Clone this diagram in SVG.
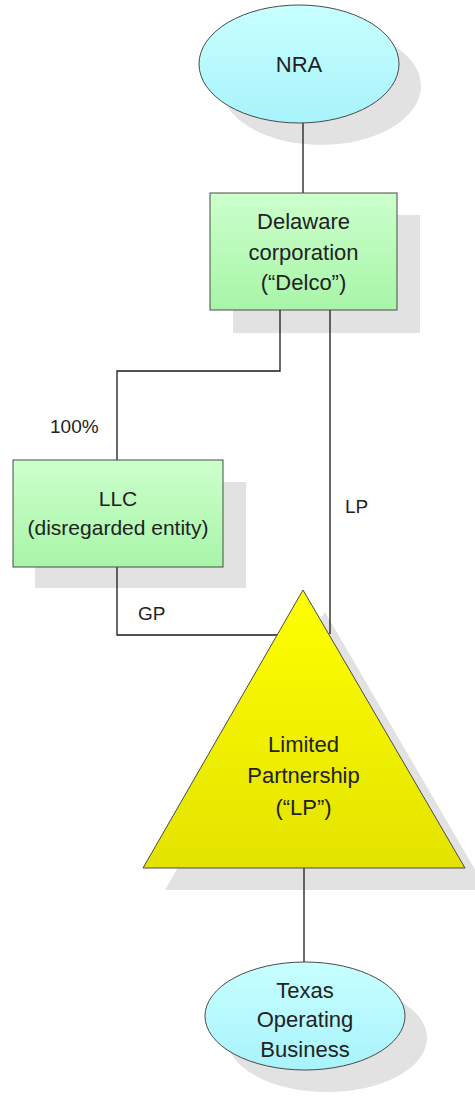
<svg xmlns="http://www.w3.org/2000/svg" width="475" height="1096" viewBox="0 0 475 1096">
<style>
.shadow{fill:#e2e2e2;stroke:none}
.shape{stroke:#4a4a4a;stroke-width:1}
.t{font-family:"Liberation Sans",Arial,sans-serif;fill:#222;text-anchor:middle}
.big{font-size:22px}
.mid{font-size:21px}
.lbl{font-family:"Liberation Sans",Arial,sans-serif;fill:#222;font-size:19px}
.conn{fill:none;stroke:#1a1a1a;stroke-width:1.3}
</style>
<defs>
<linearGradient id="gCyan" x1="0" y1="0" x2="0" y2="1">
<stop offset="0" stop-color="#c8ffff"/>
<stop offset="1" stop-color="#a8f3fb"/>
</linearGradient>
<linearGradient id="gGreen" x1="0" y1="0" x2="0" y2="1">
<stop offset="0" stop-color="#ccffcc"/>
<stop offset="1" stop-color="#a8f5a8"/>
</linearGradient>
<linearGradient id="gYellow" x1="0" y1="0" x2="0" y2="1">
<stop offset="0" stop-color="#ffff00"/>
<stop offset="1" stop-color="#e3e300"/>
</linearGradient>
</defs>
<rect width="475" height="1096" fill="#ffffff"/>
<g id="shadows">
<ellipse class="shadow" cx="321" cy="86" rx="100" ry="59"/>
<rect class="shadow" x="233" y="215" width="187" height="118"/>
<rect class="shadow" x="35" y="482" width="211" height="106"/>
<polygon class="shadow" points="325,612 487,890 165,890"/>
<ellipse class="shadow" cx="327" cy="1038" rx="100" ry="54"/>
</g>
<g id="connectors">
<line class="conn" x1="303" y1="123" x2="303" y2="193"/>
<polyline class="conn" points="280,310 280,371 117,371 117,460"/>
<line class="conn" x1="330" y1="310" x2="330" y2="634"/>
<polyline class="conn" points="117,567 117,635 277,635"/>
<line class="conn" x1="304" y1="868" x2="304" y2="962"/>
<text class="lbl" x="50" y="433">100%</text>
<text class="lbl" x="345" y="513">LP</text>
<text class="lbl" x="138" y="620">GP</text>
</g>
<g id="nra">
<ellipse class="shape" cx="299" cy="64" rx="100" ry="59" fill="url(#gCyan)"/>
<text class="t big" x="299" y="72">NRA</text>
</g>
<g id="delco">
<rect class="shape" x="210" y="193" width="187" height="117" fill="url(#gGreen)"/>
<text class="t big" x="303.5" y="229">Delaware</text>
<text class="t big" x="303.5" y="260">corporation</text>
<text class="t big" x="303.5" y="290">(“Delco”)</text>
</g>
<g id="llc">
<rect class="shape" x="13" y="460" width="210" height="107" fill="url(#gGreen)"/>
<text class="t mid" x="118" y="506">LLC</text>
<text class="t mid" x="118" y="535">(disregarded entity)</text>
</g>
<g id="lp">
<polygon class="shape" points="303,590 465,868 143,868" fill="url(#gYellow)"/>
<text class="t big" x="303.5" y="752">Limited</text>
<text class="t big" x="303.5" y="783">Partnership</text>
<text class="t big" x="303.5" y="815">(“LP”)</text>
</g>
<g id="texas">
<ellipse class="shape" cx="305" cy="1016" rx="100" ry="54" fill="url(#gCyan)"/>
<text class="t big" x="305" y="998">Texas</text>
<text class="t big" x="305" y="1027">Operating</text>
<text class="t big" x="305" y="1057">Business</text>
</g>
</svg>
